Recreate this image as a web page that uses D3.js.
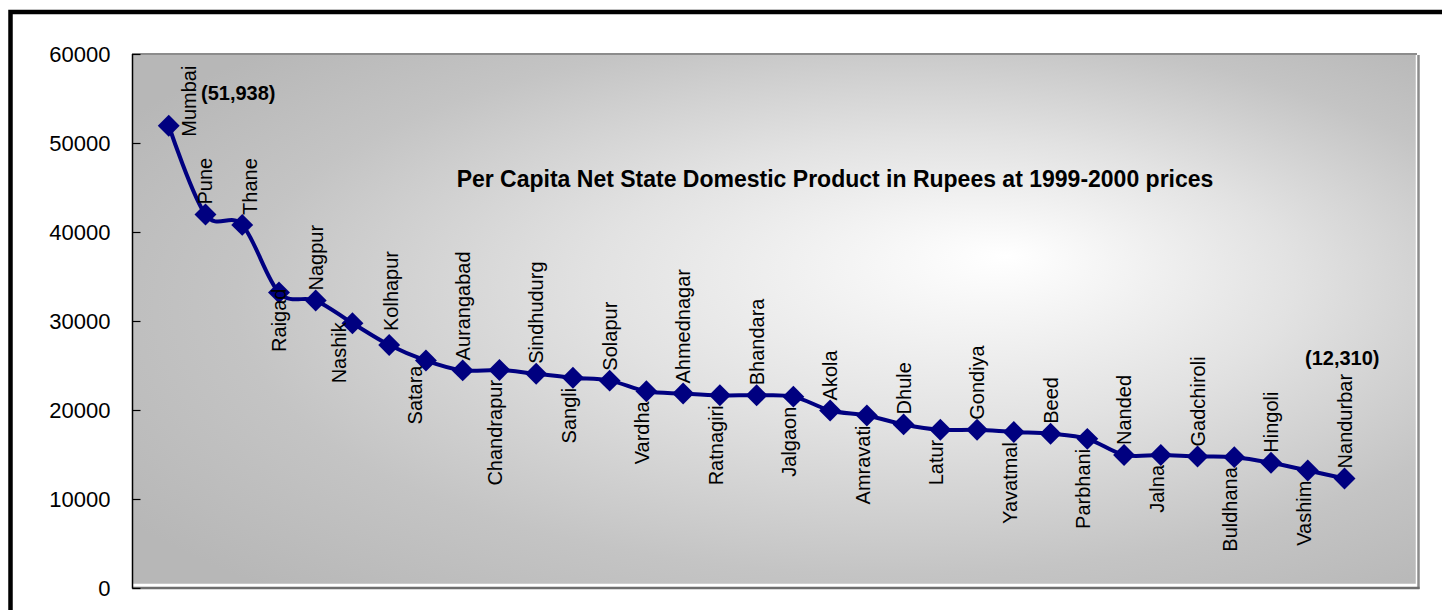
<!DOCTYPE html>
<html>
<head>
<meta charset="utf-8">
<script src="https://cdn.jsdelivr.net/npm/d3@7"></script>
<style>
  html, body { margin: 0; padding: 0; background: #fff; }
  svg { display: block; }
  text { font-family: "Liberation Sans", Arial, sans-serif; }
</style>
</head>
<body>
<svg id="chart" width="1442" height="610"></svg>
<script>
// ---- data ----
const districts = ["Mumbai","Pune","Thane","Raigad","Nagpur","Nashik","Kolhapur","Satara",
  "Aurangabad","Chandrapur","Sindhudurg","Sangli","Solapur","Vardha","Ahmednagar","Ratnagiri",
  "Bhandara","Jalgaon","Akola","Amravati","Dhule","Latur","Gondiya","Yavatmal","Beed",
  "Parbhani","Nanded","Jalna","Gadchiroli","Buldhana","Hingoli","Vashim","Nandurbar"];
const perCapitaNSDP = [51938,41970,40800,33200,32300,29750,27300,25560,
  24450,24500,24070,23620,23300,22100,21850,21650,
  21650,21500,19950,19380,18380,17780,17780,17520,17330,
  16760,14950,14950,14780,14700,14080,13200,12310];
const yTicks = [0,10000,20000,30000,40000,50000,60000];
const calloutLabels = ["(51,938)", "(12,310)"];
const chartTitle = "Per Capita Net State Domestic Product in Rupees at 1999-2000 prices";

// ---- layout ----
const svg = d3.select("#chart");
const plot = {left: 132, right: 1417, top: 54, bottom: 588};

const x = d3.scaleLinear().domain([0, districts.length + 2]).range([plot.left, plot.left + 1286]);
const y = d3.scaleLinear().domain([0, 60000]).range([plot.bottom, plot.top]);

// outer chart border
svg.append("rect").attr("x", 10.5).attr("y", 12).attr("width", 1600).attr("height", 800)
  .attr("fill", "#fff").attr("stroke", "#000").attr("stroke-width", 4.5);

// gradient
const defs = svg.append("defs");
const grad = defs.append("radialGradient").attr("id", "bg")
  .attr("cx", 0.56).attr("cy", 0.5).attr("r", 0.68)
  .attr("fx", 0.68).attr("fy", 0.38);
grad.append("stop").attr("offset", 0).attr("stop-color", "#ffffff");
grad.append("stop").attr("offset", 0.4).attr("stop-color", "#e2e2e2");
grad.append("stop").attr("offset", 0.75).attr("stop-color", "#c4c4c4");
grad.append("stop").attr("offset", 1).attr("stop-color", "#b7b7b7");

// plot area
svg.append("rect").attr("x", plot.left).attr("y", plot.top)
  .attr("width", plot.right - plot.left).attr("height", plot.bottom - 3 - plot.top)
  .attr("fill", "url(#bg)");
// frame lines
svg.append("line").attr("x1", plot.left).attr("x2", plot.right).attr("y1", plot.top).attr("y2", plot.top)
  .attr("stroke", "#8c8c8c").attr("stroke-width", 2);
svg.append("line").attr("x1", plot.right - 0.5).attr("x2", plot.right - 0.5).attr("y1", plot.top + 1).attr("y2", plot.bottom - 3)
  .attr("stroke", "#fff").attr("stroke-width", 1.5);
svg.append("line").attr("x1", plot.left).attr("x2", plot.right).attr("y1", plot.bottom - 3.5).attr("y2", plot.bottom - 3.5)
  .attr("stroke", "#fff").attr("stroke-width", 1.5);
svg.append("line").attr("x1", plot.right + 1.5).attr("x2", plot.right + 1.5).attr("y1", plot.top + 1).attr("y2", plot.bottom + 1)
  .attr("stroke", "#8c8c8c").attr("stroke-width", 2.5);
svg.append("line").attr("x1", plot.left).attr("x2", plot.right + 2.5).attr("y1", plot.bottom).attr("y2", plot.bottom)
  .attr("stroke", "#6e6e6e").attr("stroke-width", 2.5);

// y axis
const yAxis = d3.axisLeft(y).tickValues(yTicks).tickSize(-8).tickPadding(22).tickFormat(d3.format("d"));
const gy = svg.append("g").attr("transform", `translate(${plot.left + 0.5},0)`).call(yAxis);
gy.select(".domain").attr("stroke", "#000").attr("stroke-width", 1.5).attr("d", `M0,${plot.top}V${plot.bottom + 0.5}`);
gy.selectAll(".tick line").attr("stroke", "#000").attr("stroke-width", 1.2);
gy.selectAll(".tick text").attr("font-size", 22).attr("fill", "#000")
  .style("font-family", '"Liberation Sans", Arial, sans-serif');

// title
svg.append("text").attr("x", 835).attr("y", 187).attr("text-anchor", "middle")
  .attr("font-size", 23).attr("font-weight", "bold").attr("fill", "#000").text(chartTitle);

// line
svg.append("path").datum(perCapitaNSDP)
  .attr("d", d3.line().x((d, i) => x(i + 1)).y(d => y(d)).curve(d3.curveCardinal.tension(0)))
  .attr("fill", "none").attr("stroke", "#000080").attr("stroke-width", 4).attr("stroke-linejoin", "round");

// markers
svg.append("g").selectAll("path").data(perCapitaNSDP).join("path")
  .attr("transform", (d, i) => `translate(${x(i + 1)},${y(d)}) rotate(45)`)
  .attr("d", d3.symbol().type(d3.symbolSquare).size(240))
  .attr("fill", "#000080");

// district labels (rotated)
const nudge = {Mumbai: [20, 21], Thane: [8, 0], Raigad: [4, -14], Nashik: [-9, -11], Satara: [-7, -5], Kolhapur: [2, -4]};
svg.append("g").selectAll("text").data(districts).join("text")
  .each(function(name, i) {
    const above = i < 3 || i % 2 === 0;
    const n = nudge[name] || [0, 0];
    const px = x(i + 1) + n[0] + (above ? 0 : -4);
    const py = y(perCapitaNSDP[i]) + (above ? -10 : 10) + n[1];
    d3.select(this)
      .attr("transform", `translate(${px},${py}) rotate(-90)`)
      .attr("text-anchor", above ? "start" : "end")
      .attr("dy", "0.35em")
      .attr("font-size", 20).attr("fill", "#000")
      .text(name);
  });

// callout value labels
svg.append("text").attr("x", 201).attr("y", 100).attr("font-size", 20).attr("font-weight", "bold")
  .text(calloutLabels[0]);
svg.append("text").attr("x", 1305).attr("y", 365).attr("font-size", 20).attr("font-weight", "bold")
  .text(calloutLabels[1]);
</script>
</body>
</html>
